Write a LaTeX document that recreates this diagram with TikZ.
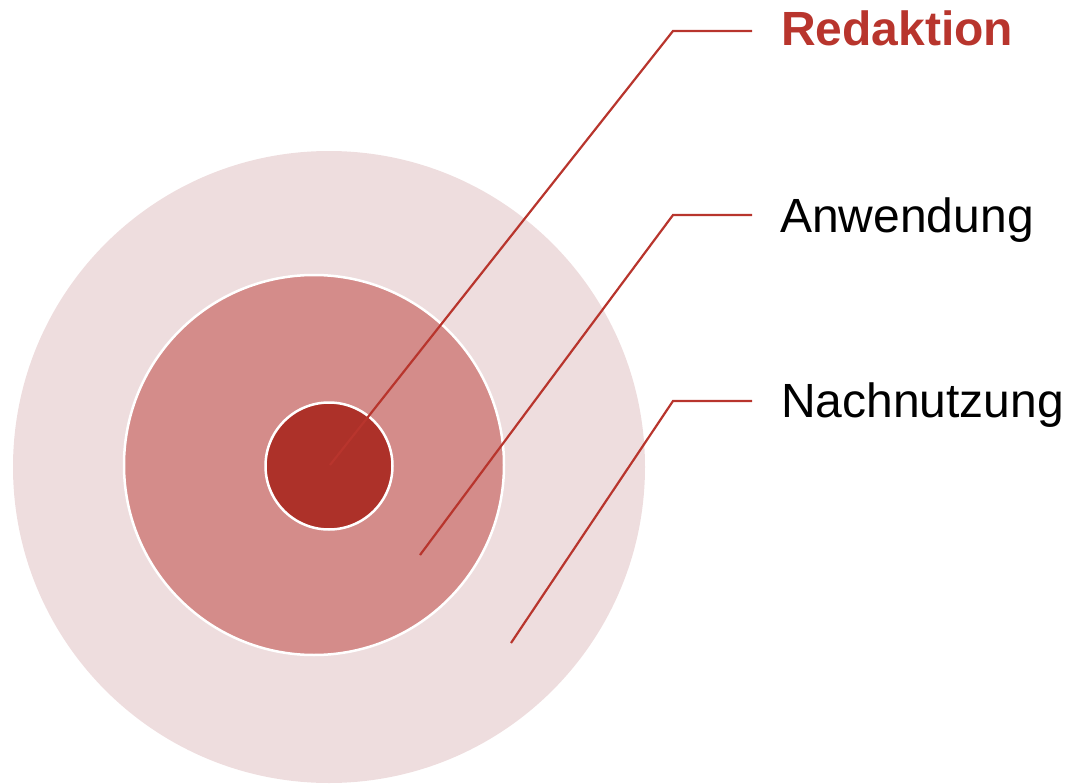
\documentclass[tikz,border=0pt]{standalone}
\usepackage{fontspec}
\setmainfont{Liberation Sans}
\usepackage{tikz}
\definecolor{rotdunkel}{HTML}{AD3129}
\definecolor{rotmittel}{HTML}{D48C8A}
\definecolor{rothell}{HTML}{EEDDDE}
\definecolor{linie}{HTML}{B8352D}
\tikzstyle{ring} =[circle, draw=white, line width=2.5pt, inner sep=0pt]
\tikzstyle{zeiger} =[draw=linie, line width=2.2pt]
\tikzstyle{etikett} =[anchor=base west, inner sep=0pt, font=\fontsize{48}{50}\selectfont]

\begin{document}
\begin{tikzpicture}[x=1pt, y=-1pt]
		\useasboundingbox (0,0) rectangle (1069,784);
		\node[circle, fill=rothell, inner sep=0pt, minimum size=632pt](aussen) at (329,467) {};
		\node[ring, fill=rotmittel, minimum size=380pt](mitte) at (314,465) {};
		\node[ring, fill=rotdunkel, minimum size=127pt](kern) at (329,466) {};
		% Zeiger
		\coordinate (p1) at (330,465);
		\coordinate (p2) at (420,555);
		\coordinate (p3) at (511,643);
		\coordinate (k1) at (673,31);
		\coordinate (k2) at (673,215);
		\coordinate (k3) at (673,401);
		\coordinate (e1) at (752,31);
		\coordinate (e2) at (752,215);
		\coordinate (e3) at (752,401);
		\draw[zeiger] (p1) -- (k1) -- (e1);
		\draw[zeiger] (p2) -- (k2) -- (e2);
		\draw[zeiger] (p3) -- (k3) -- (e3);
		\node[etikett, text=linie, font=\fontsize{48}{50}\selectfont\bfseries](redaktion) at (781,46) {Redaktion};
		\node[etikett](anwendung) at (780,232) {Anwendung};
		\node[etikett](nachnutzung) at (781,417) {Nachnutzung};
	\end{tikzpicture}
\end{document}
